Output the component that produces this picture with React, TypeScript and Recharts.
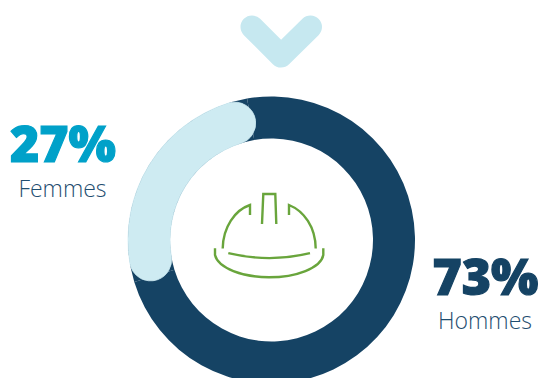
import React from "react";
import { PieChart, Pie, Cell, Sector } from "recharts";

const genders = ["Femmes", "Hommes"];
const shares = [27, 73];
const shareLabels = ["27%", "73%"];

const rows = genders.map((name, i) => ({ name, value: shares[i] }));

const NAVY = "#154364";
const PALE = "#CEEBF2";
const CYAN = "#00A1C9";
const GREEN = "#69A53C";
const CAPTION = "#1F4E70";
const SANS = "'Open Sans', sans-serif";

// The rounded ends of the highlighted arc reach a little past its nominal span.
const CAP_OVERSHOOT = 2.2;

const RoundedArc = (props: any) => {
  const { startAngle, endAngle, ...rest } = props;
  return (
    <Sector
      {...rest}
      startAngle={startAngle - CAP_OVERSHOOT}
      endAngle={endAngle + CAP_OVERSHOOT}
    />
  );
};

const Helmet = () => (
  <g fill="none" stroke={GREEN} strokeWidth={2.4}>
    <path d="M262 224 L263.3 194 L275.3 194 L276.3 224" />
    <path d="M222.7 248.5 C223 227 235 210 250 205 L250 215" />
    <path d="M289 215 L289 205 C304 211 315.5 227 315.7 248.5" />
    <path d="M228.3 253.2 C255 259.5 284 259.5 310 253.2" />
    <path d="M215 248.3 L215 255 C218 268 243 277.3 269 277.3 C296 277.3 321 268 323.3 255 L323.3 248.3" />
  </g>
);

export default function App() {
  return (
    <div style={{ position: "absolute", left: 0, top: 0, width: 541, height: 378, overflow: "hidden" }}>
      <PieChart width={541} height={378} margin={{ top: 0, right: 0, bottom: 0, left: 0 }}>
        <Pie
          data={rows}
          dataKey="value"
          cx={271.5}
          cy={240}
          innerRadius={101.5}
          outerRadius={143.5}
          startAngle={99.8}
          endAngle={459.8}
          isAnimationActive={false}
          stroke="none"
          fill={NAVY}
        />
        <Pie
          data={rows}
          dataKey="value"
          cx={271.5}
          cy={240}
          innerRadius={101.5}
          outerRadius={143.5}
          startAngle={99.8}
          endAngle={459.8}
          cornerRadius={21}
          isAnimationActive={false}
          shape={RoundedArc}
        >
          <Cell fill={PALE} stroke={PALE} strokeWidth={0.8} />
          <Cell fill="none" stroke="none" />
        </Pie>
        <path
          d="M252 27 L281 56 L310.5 27"
          fill="none"
          stroke="#C6E8F0"
          strokeWidth={23}
          strokeLinecap="round"
          strokeLinejoin="round"
        />
        <Helmet />
        <text x={63} y={162} textAnchor="middle" fontFamily={SANS} fontWeight={800} fontSize={50} fill={CYAN} stroke={CYAN} strokeWidth={1.2}>
          {shareLabels[0]}
        </text>
        <text x={62.5} y={197} textAnchor="middle" fontFamily={SANS} fontWeight={300} fontSize={23} fill={CAPTION}>
          {genders[0]}
        </text>
        <text x={485.5} y={295} textAnchor="middle" fontFamily={SANS} fontWeight={800} fontSize={50} fill={NAVY} stroke={NAVY} strokeWidth={1.2}>
          {shareLabels[1]}
        </text>
        <text x={485} y={329} textAnchor="middle" fontFamily={SANS} fontWeight={300} fontSize={23} fill={CAPTION}>
          {genders[1]}
        </text>
      </PieChart>
    </div>
  );
}
